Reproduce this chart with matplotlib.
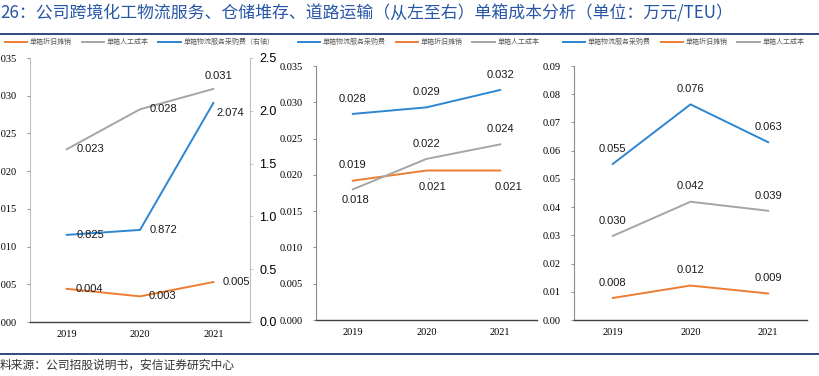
import matplotlib
matplotlib.use('Agg')
import matplotlib.pyplot as plt
from matplotlib.lines import Line2D

# data (万元/TEU)
years = ['2019', '2020', '2021']

# 跨境化工物流服务
p1_dep = [0.0044, 0.0034, 0.0053]
p1_labor = [0.0229, 0.0282, 0.0309]
p1_logi = [0.825, 0.872, 2.074]      # 右轴

# 仓储堆存
p2_logi = [0.0284, 0.0293, 0.0317]
p2_dep = [0.0192, 0.0206, 0.0206]
p2_labor = [0.0180, 0.0222, 0.0242]

# 道路运输
p3_logi = [0.0553, 0.0764, 0.0630]
p3_dep = [0.0078, 0.0122, 0.0094]
p3_labor = [0.0298, 0.0419, 0.0387]

TITLE = '26：公司跨境化工物流服务、仓储堆存、道路运输（从左至右）单箱成本分析（单位：万元/TEU）'
SOURCE = '料来源：公司招股说明书，安信证券研究中心'

BLUE = '#2e86d0'
ORANGE = '#ed7d31'
GRAY = '#a5a5a5'

W, H = 820, 376
CJK = ['Noto Sans CJK SC', 'DejaVu Sans']
SERIF = 'Liberation Serif'
SANS = 'Liberation Sans'


def px_axes(fig, left, top, right, bottom):
    """Add axes from pixel box (origin top-left)."""
    return fig.add_axes([left / W, 1 - bottom / H, (right - left) / W, (bottom - top) / H])


def style_axes(ax, ymax, step, fmt):
    ax.set_xlim(-0.5, 2.5)
    ax.set_ylim(0, ymax)
    n = int(round(ymax / step))
    ticks = [i * step for i in range(n + 1)]
    ax.set_yticks(ticks)
    ax.set_yticklabels([fmt.format(t) for t in ticks], fontfamily=SERIF, fontsize=7.5)
    ax.set_xticks(range(len(years)))
    ax.set_xticklabels(years, fontfamily=SERIF, fontsize=7.5)
    ax.tick_params(axis='x', length=0, pad=6)
    ax.tick_params(axis='y', length=2.5, width=0.6, color='#7f7f7f', pad=7)
    for s in ['top', 'right']:
        ax.spines[s].set_visible(False)
    ax.spines['left'].set_color('#8c8c8c')
    ax.spines['left'].set_linewidth(0.8)
    ax.spines['bottom'].set_color('#404040')
    ax.spines['bottom'].set_linewidth(1.0)
    ax.patch.set_alpha(0)


def label(ax, x, y, text, dx, dy, ha='center', line=False):
    kw = {}
    if line:
        kw['arrowprops'] = dict(arrowstyle='-', color='#7f7f7f', lw=0.6, shrinkA=0, shrinkB=6)
    ax.annotate(text, (x, y), xytext=(dx, dy), textcoords='offset points',
                ha=ha, va='center', fontfamily=SANS, fontsize=8, color='#1a1a1a', **kw)


def legend(fig, handles, x, y=42):
    fig.legend(handles=handles, loc='center left', bbox_to_anchor=(x / W, 1 - y / H),
               ncol=len(handles), frameon=False, prop={'family': CJK, 'size': 5},
               handlelength=3.2, handletextpad=0.4, columnspacing=1.4, borderpad=0,
               borderaxespad=0, labelcolor='#595959')


def main():
    fig = plt.figure(figsize=(W / 100, H / 100), dpi=100)

    # title and rules
    fig.text(0, 1 - 13 / H, TITLE, fontfamily=CJK, fontsize=12.2, color='#2756a6',
             va='center', ha='left')
    fig.add_artist(Line2D([0, 1], [1 - 34 / H] * 2, color='#1f3a7a', lw=1.3))
    fig.add_artist(Line2D([0, 1], [1 - 354 / H] * 2, color='#1f3a7a', lw=1.3))
    fig.text(0, 1 - 365 / H, SOURCE, fontfamily=CJK, fontsize=8.5, color='#333333',
             va='center', ha='left')

    x = list(range(len(years)))
    lw = 1.4

    # panel 1
    ax1 = px_axes(fig, 30, 58, 250, 322)
    style_axes(ax1, 0.035, 0.005, '{:.3f}')
    ax1.spines['left'].set_color('#bfbfbf')
    l_dep, = ax1.plot(x, p1_dep, color=ORANGE, lw=lw, label='单箱折旧摊销')
    l_lab, = ax1.plot(x, p1_labor, color=GRAY, lw=lw, label='单箱人工成本')
    ax1r = ax1.twinx()
    ax1r.set_ylim(0, 2.5)
    ax1r.set_yticks([0, 0.5, 1.0, 1.5, 2.0, 2.5])
    ax1r.set_yticklabels(['0.0', '0.5', '1.0', '1.5', '2.0', '2.5'], fontfamily=SANS, fontsize=9)
    ax1r.tick_params(axis='y', length=2.5, width=0.6, color='#bfbfbf', pad=4)
    for s in ['top', 'left', 'bottom']:
        ax1r.spines[s].set_visible(False)
    ax1r.spines['right'].set_color('#bfbfbf')
    ax1r.spines['right'].set_linewidth(0.8)
    l_log, = ax1r.plot(x, p1_logi, color=BLUE, lw=lw, label='单箱物流服务采购费（右轴）')

    for i, v in enumerate(p1_dep):
        label(ax1, i, v, f'{v:.3f}', 6.5 if i < 2 else 7, 0, ha='left')
    for i, v in enumerate(p1_labor):
        if i < 2:
            label(ax1, i, v, f'{v:.3f}', 7, 0, ha='left')
        else:
            label(ax1, i, v, f'{v:.3f}', 4, 9)
    for i, v in enumerate(p1_logi):
        if i < 2:
            label(ax1r, i, v, f'{v:.3f}', 7, 0, ha='left')
        else:
            label(ax1r, i, v, f'{v:.3f}', 2, -7, ha='left')
    legend(fig, [l_dep, l_lab, l_log], 5)

    # panel 2
    ax2 = px_axes(fig, 316, 66, 537, 320)
    style_axes(ax2, 0.035, 0.005, '{:.3f}')
    b2, = ax2.plot(x, p2_logi, color=BLUE, lw=lw, label='单箱物流服务采购费')
    o2, = ax2.plot(x, p2_dep, color=ORANGE, lw=lw, label='单箱折旧摊销')
    g2, = ax2.plot(x, p2_labor, color=GRAY, lw=lw, label='单箱人工成本')
    for i, v in enumerate(p2_logi):
        label(ax2, i, v, f'{v:.3f}', 0, 11)
    label(ax2, 0, p2_dep[0], f'{p2_dep[0]:.3f}', 0, 11)
    label(ax2, 1, p2_dep[1], f'{p2_dep[1]:.3f}', 4, -12, line=True)
    label(ax2, 2, p2_dep[2], f'{p2_dep[2]:.3f}', 6, -12)
    label(ax2, 0, p2_labor[0], f'{p2_labor[0]:.3f}', 2, -8)
    label(ax2, 1, p2_labor[1], f'{p2_labor[1]:.3f}', 0, 11)
    label(ax2, 2, p2_labor[2], f'{p2_labor[2]:.3f}', 0, 11)
    legend(fig, [b2, o2, g2], 298)

    # panel 3
    ax3 = px_axes(fig, 574, 66, 807, 320)
    style_axes(ax3, 0.09, 0.01, '{:.2f}')
    b3, = ax3.plot(x, p3_logi, color=BLUE, lw=lw, label='单箱物流服务采购费')
    o3, = ax3.plot(x, p3_dep, color=ORANGE, lw=lw, label='单箱折旧摊销')
    g3, = ax3.plot(x, p3_labor, color=GRAY, lw=lw, label='单箱人工成本')
    for series in (p3_logi, p3_dep, p3_labor):
        for i, v in enumerate(series):
            label(ax3, i, v, f'{v:.3f}', 0, 11)
    legend(fig, [b3, o3, g3], 563)

    fig.savefig('out.png', dpi=100)


if __name__ == "__main__":
    main()
